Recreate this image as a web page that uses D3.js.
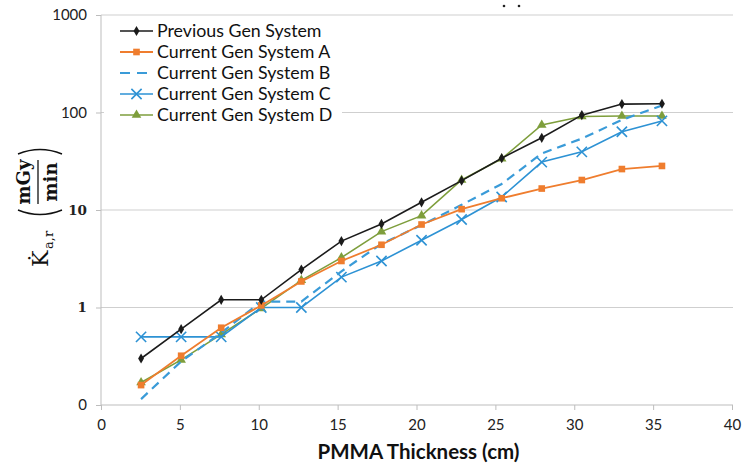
<!DOCTYPE html>
<html><head><meta charset="utf-8">
<script src="https://cdn.jsdelivr.net/npm/d3@7"></script>
<style>html,body{margin:0;padding:0;background:#fff;}svg{display:block;}</style>
</head><body>
<svg id="chart" width="745" height="464"></svg>
<script>
const thickness = [2.54, 5.08, 7.62, 10.16, 12.7, 15.24, 17.78, 20.32, 22.86, 25.4, 27.94, 30.48, 33.02, 35.56];
const previousGen = [0.30, 0.60, 1.2, 1.2, 2.45, 4.8, 7.2, 12, 20, 34, 55, 94, 122, 123];
const systemA = [0.16, 0.32, 0.62, 1.05, 1.85, 3.0, 4.4, 7.1, 10.2, 13.2, 16.6, 20.3, 26.3, 28.3];
const systemB = [0.115, 0.28, 0.55, 1.15, 1.15, 2.35, 4.5, 7.0, 11.3, 18.5, 38, 54, 84, 118];
const systemC = [0.5, 0.5, 0.5, 1.0, 1.0, 2.05, 3.0, 4.9, 8.0, 13.6, 31, 39.5, 63.5, 82];
const systemD = [0.17, 0.29, 0.53, 0.98, 1.9, 3.25, 6.0, 8.75, 20.3, 33.5, 74.5, 91, 92, 92];
const seriesNames = ["Previous Gen System", "Current Gen System A", "Current Gen System B", "Current Gen System C", "Current Gen System D"];
const xTicks = [0, 5, 10, 15, 20, 25, 30, 35, 40];
const yTicks = [0.1, 1, 10, 100, 1000];
const yTickLabels = ["0", "1", "10", "100", "1000"];
const xTitle = "PMMA Thickness (cm)";

const svg = d3.select("#chart");
const L = 101, R = 732, T = 15, B = 405;
const x = d3.scaleLinear().domain([0, 40]).range([L, R]);
const y = d3.scaleLog().domain([0.1, 1000]).range([B, T]);

const sans = "Lato, 'Open Sans', sans-serif";
const serif = "'DejaVu Serif', 'Liberation Serif', serif";

// gridlines
svg.append("g").selectAll("line").data(yTicks.slice(1)).join("line")
  .attr("x1", L).attr("x2", R + 1).attr("y1", d => y(d)).attr("y2", d => y(d))
  .attr("stroke", "#cfcfcf").attr("stroke-width", 1);

// x axis
const xAxis = svg.append("g").attr("transform", `translate(0,${B})`)
  .call(d3.axisBottom(x).tickValues(xTicks).tickSize(5).tickPadding(9).tickFormat(d3.format("d")));
xAxis.select(".domain").attr("stroke", "#bdbdbd").attr("d", `M${L},0H${R + 1}`);
xAxis.selectAll(".tick line").attr("stroke", "#bdbdbd");
xAxis.selectAll("text").attr("font-family", sans).attr("font-size", 15).attr("fill", "#222");

// y axis
const yAxis = svg.append("g").attr("transform", `translate(${L},0)`)
  .call(d3.axisLeft(y).tickValues(yTicks).tickSize(5).tickPadding(9).tickFormat((d, i) => yTickLabels[i]));
yAxis.select(".domain").attr("stroke", "#bdbdbd").attr("d", `M0,${T}V${B}`);
yAxis.selectAll(".tick line").attr("stroke", "#bdbdbd");
yAxis.selectAll("text").attr("font-family", sans).attr("font-size", 15).attr("fill", "#222");
yAxis.selectAll("text").filter((d) => d === 1 || d === 10)
  .attr("font-family", serif).attr("font-weight", "bold").attr("font-size", 13.5);

// series
const series = [
  {name: seriesNames[0], values: previousGen, color: "#1b1b1b", width: 1.6, dash: null, marker: "diamond"},
  {name: seriesNames[1], values: systemA, color: "#ef7d2e", width: 1.8, dash: null, marker: "square"},
  {name: seriesNames[2], values: systemB, color: "#3a9bd8", width: 2.2, dash: "9,6", marker: null},
  {name: seriesNames[3], values: systemC, color: "#2d92d4", width: 1.6, dash: null, marker: "x"},
  {name: seriesNames[4], values: systemD, color: "#7e9e3c", width: 1.6, dash: null, marker: "triangle"}
];
const line = d3.line().x(d => x(d[0])).y(d => y(d[1]));

function marker(g, type, color) {
  if (type === "diamond") g.append("path").attr("d", d3.symbol(d3.symbolDiamond, 30)()).attr("fill", color);
  else if (type === "square") g.append("path").attr("d", d3.symbol(d3.symbolSquare, 44)()).attr("fill", color);
  else if (type === "triangle") g.append("path").attr("d", d3.symbol(d3.symbolTriangle, 40)()).attr("fill", color);
  else if (type === "x") g.append("path").attr("d", d3.symbol(d3.symbolX, 70)()).attr("fill", "none").attr("stroke", color).attr("stroke-width", 1.6);
}

const drawOrder = [4, 3, 2, 1, 0];
drawOrder.forEach(i => {
  const s = series[i];
  const pts = thickness.map((t, k) => [t, s.values[k]]);
  svg.append("path").datum(pts).attr("d", line).attr("fill", "none")
    .attr("stroke", s.color).attr("stroke-width", s.width)
    .attr("stroke-dasharray", s.dash);
  if (s.marker) {
    svg.append("g").selectAll("g").data(pts).join("g")
      .attr("transform", d => `translate(${x(d[0])},${y(d[1])})`)
      .each(function() { marker(d3.select(this), s.marker, s.color); });
  }
});

// legend
const lg = svg.append("g");
lg.append("rect").attr("x", 104).attr("y", 20).attr("width", 238).attr("height", 106).attr("fill", "#fff");
series.forEach((s, i) => {
  const cy = 31 + i * 21;
  const g = lg.append("g");
  g.append("line").attr("x1", 120).attr("x2", 153).attr("y1", cy).attr("y2", cy)
    .attr("stroke", s.color).attr("stroke-width", s.width).attr("stroke-dasharray", s.dash ? "10,7" : null);
  if (s.marker) marker(g.append("g").attr("transform", `translate(136.5,${cy})`), s.marker, s.color);
  g.append("text").attr("x", 157).attr("y", cy).attr("dy", "0.35em")
    .attr("font-family", sans).attr("font-size", 17.8).attr("fill", "#111").text(s.name);
});

// x title
svg.append("text").attr("x", (L + R) / 2 + 2).attr("y", 459).attr("text-anchor", "middle")
  .attr("font-family", sans).attr("font-weight", "bold").attr("font-size", 20.5).attr("fill", "#111").text(xTitle);

// y title (rotated)
const yt = svg.append("g").attr("transform", "translate(40,210) rotate(-90)");
yt.append("text").attr("x", -57).attr("y", 8).attr("font-family", serif).attr("font-size", 22).attr("fill", "#111").text("K\u0307");
yt.append("text").attr("x", -39).attr("y", 13).attr("font-family", serif).attr("font-size", 13).attr("fill", "#111").text("a,r");
yt.append("path").attr("d", "M0,-22 Q-9,0 0,22").attr("fill", "none").attr("stroke", "#111").attr("stroke-width", 1.4);
yt.append("path").attr("d", "M56,-22 Q65,0 56,22").attr("fill", "none").attr("stroke", "#111").attr("stroke-width", 1.4);
yt.append("text").attr("x", 28).attr("y", -10).attr("text-anchor", "middle").attr("font-family", serif).attr("font-weight", "bold").attr("font-size", 18).attr("fill", "#111").text("mGy");
yt.append("line").attr("x1", 6).attr("x2", 50).attr("y1", -2).attr("y2", -2).attr("stroke", "#111").attr("stroke-width", 1.3);
yt.append("text").attr("x", 28).attr("y", 17).attr("text-anchor", "middle").attr("font-family", serif).attr("font-weight", "bold").attr("font-size", 18).attr("fill", "#111").text("min");

// remnant dots at top
svg.append("g").selectAll("circle").data([504, 519]).join("circle")
  .attr("cx", d => d).attr("cy", 6).attr("r", 1.3).attr("fill", "#222");
</script>
</body></html>
